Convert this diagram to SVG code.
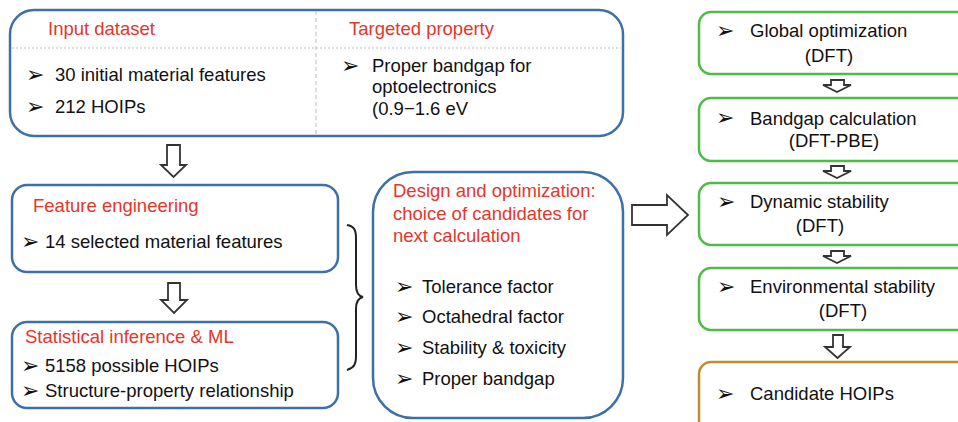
<svg xmlns="http://www.w3.org/2000/svg" width="958" height="422" viewBox="0 0 958 422">
<style>
text{font-family:"Liberation Sans",Arial,sans-serif;font-size:18.5px;fill:#111}
.red{fill:#e2372c}
.bul{font-family:"DejaVu Sans",sans-serif;font-size:22px;fill:#111}
.blue{fill:#fff;stroke:#3d6fa8;stroke-width:2.5}
.green{fill:#fff;stroke:#4cbb47;stroke-width:2.5}
.brown{fill:#fff;stroke:#c48b2c;stroke-width:2.5}
.arr{fill:#fff;stroke:#333;stroke-width:1.8;stroke-linejoin:miter}
.mid{text-anchor:middle}
</style>
<rect width="958" height="422" fill="#fff"/>

<g id="top-box">
<rect class="blue" x="10" y="10" width="613" height="126" rx="24"/>
<line x1="12" y1="48" x2="621" y2="48" stroke="#bbb" stroke-width="1" stroke-dasharray="2,2"/>
<line x1="316" y1="11" x2="316" y2="135" stroke="#bbb" stroke-width="1" stroke-dasharray="4,3"/>
<text class="red" x="48" y="35">Input dataset</text>
<text class="red" x="349" y="35">Targeted property</text>
<text class="bul" x="26" y="82">➢</text>
<text x="55" y="81">30 initial material features</text>
<text class="bul" x="26" y="114">➢</text>
<text x="55" y="113">212 HOIPs</text>
<text class="bul" x="341" y="73">➢</text>
<text x="372" y="72">Proper bandgap for</text>
<text x="372" y="93">optoelectronics</text>
<text x="372" y="115">(0.9−1.6 eV</text>
</g>

<g id="feature-engineering">
<rect class="blue" x="12" y="185" width="326" height="87" rx="15"/>
<text class="red" x="33" y="212">Feature engineering</text>
<text class="bul" x="21" y="249">➢</text>
<text x="45" y="248">14 selected material features</text>
</g>

<g id="statistical-inference">
<rect class="blue" x="12" y="322" width="326" height="86" rx="15"/>
<text class="red" x="25" y="343">Statistical inference &amp; ML</text>
<text class="bul" x="21" y="373">➢</text>
<text x="45" y="372">5158 possible HOIPs</text>
<text class="bul" x="21" y="398">➢</text>
<text x="45" y="397">Structure-property relationship</text>
</g>

<g id="design">
<rect class="blue" x="373" y="172" width="250" height="246" rx="40"/>
<text class="red" x="393" y="197">Design and optimization:</text>
<text class="red" x="393" y="220">choice of candidates for</text>
<text class="red" x="393" y="242">next calculation</text>
<text class="bul" x="395" y="294">➢</text>
<text x="422" y="293">Tolerance factor</text>
<text class="bul" x="395" y="324">➢</text>
<text x="422" y="323">Octahedral factor</text>
<text class="bul" x="395" y="355">➢</text>
<text x="422" y="354">Stability &amp; toxicity</text>
<text class="bul" x="395" y="386">➢</text>
<text x="422" y="385">Proper bandgap</text>
</g>

<g id="global-optimization">
<rect class="green" x="699" y="12" width="280" height="62" rx="12"/>
<text class="bul" x="716" y="38">➢</text>
<text x="750" y="37">Global optimization</text>
<text class="mid" x="829" y="62">(DFT)</text>
</g>

<g id="bandgap-calculation">
<rect class="green" x="699" y="98" width="280" height="63" rx="12"/>
<text class="bul" x="716" y="125">➢</text>
<text x="750" y="125">Bandgap calculation</text>
<text class="mid" x="834" y="147">(DFT-PBE)</text>
</g>

<g id="dynamic-stability">
<rect class="green" x="699" y="183" width="280" height="62" rx="12"/>
<text class="bul" x="717" y="209">➢</text>
<text x="750" y="208">Dynamic stability</text>
<text class="mid" x="820" y="232">(DFT)</text>
</g>

<g id="environmental-stability">
<rect class="green" x="699" y="268" width="280" height="62" rx="12"/>
<text class="bul" x="717" y="294">➢</text>
<text x="750" y="293">Environmental stability</text>
<text class="mid" x="843" y="317">(DFT)</text>
</g>

<g id="candidate-hoips">
<rect class="brown" x="699" y="362" width="280" height="80" rx="12"/>
<text class="bul" x="716" y="401">➢</text>
<text x="750" y="400">Candidate HOIPs</text>
</g>

<g id="connectors">
<polygon class="arr" points="167,145 180,145 180,165 186,165 173.5,177 161,165 167,165"/>
<polygon class="arr" points="168,283 180,283 180,300 187,300 174,313 161,300 168,300"/>
<polygon class="arr" points="632,205 667,205 667,195 688,215 667,235 667,225 632,225"/>
<polygon class="arr" points="831,80 844,80 844,85 851,85 837,92 823,85 831,85"/>
<polygon class="arr" points="831,166 844,166 844,171 851,171 837,178 823,171 831,171"/>
<polygon class="arr" points="831,251 844,251 844,256 851,256 837,263 823,256 831,256"/>
<polygon class="arr" points="833,335 843,335 843,347 850,347 837.5,358 825,347 833,347"/>
<path d="M347,225 C354,226 356,230 356,238 L356,285 C356,292 358,296 363,297 C358,298 356,302 356,309 L356,356 C356,364 354,368 347,370" fill="none" stroke="#222" stroke-width="2"/>
</g>
</svg>
